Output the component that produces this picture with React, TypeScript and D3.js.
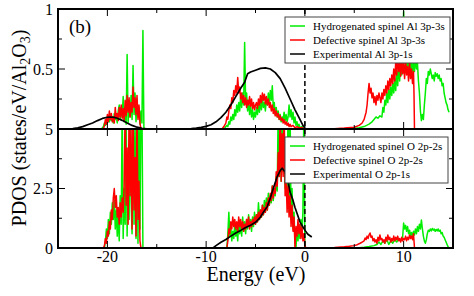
import React from "react";
import { scaleLinear, line } from "d3";

type Pt = [number, number];

// energy (eV), PDOS — Al panel (top)
const alHydro: Pt[] = [
  [-25, 0], [-20.6, 0], [-20.4, 0.02], [-20.3, 0.05], [-20.2, 0.03], [-20.1, 0.08], [-20.0, 0.05], [-19.9, 0.1], [-19.8, 0.06],
  [-19.7, 0.12], [-19.6, 0.07], [-19.5, 0.1], [-19.4, 0.05], [-19.3, 0.13], [-19.2, 0.08], [-19.1, 0.1], [-19.0, 0.05],
  [-18.9, 0.15], [-18.8, 0.2], [-18.7, 0.08], [-18.6, 0.18], [-18.5, 0.1], [-18.4, 0.27], [-18.3, 0.06], [-18.2, 0.15],
  [-18.1, 0.04], [-18.0, 0.62], [-17.9, 0.05], [-17.8, 0.22], [-17.7, 0.1], [-17.6, 0.28], [-17.5, 0.08], [-17.4, 0.53],
  [-17.3, 0.12], [-17.2, 0.3], [-17.1, 0.06], [-17.0, 0.25], [-16.9, 0.1], [-16.8, 0.18], [-16.7, 0.04], [-16.6, 0.15],
  [-16.5, 0.05], [-16.4, 0.82], [-16.3, 0],
  [-8.3, 0], [-8.1, 0.01], [-7.9, 0.03], [-7.8, 0.02], [-7.7, 0.06], [-7.6, 0.04], [-7.5, 0.1], [-7.4, 0.07], [-7.3, 0.12],
  [-7.2, 0.08], [-7.1, 0.16], [-7.0, 0.11], [-6.9, 0.2], [-6.8, 0.14], [-6.7, 0.22], [-6.6, 0.15], [-6.5, 0.28], [-6.4, 0.18],
  [-6.3, 0.3], [-6.2, 0.2], [-6.1, 0.72], [-6.0, 0.22], [-5.9, 0.3], [-5.8, 0.15], [-5.7, 0.24], [-5.6, 0.12], [-5.5, 0.2],
  [-5.4, 0.1], [-5.3, 0.16], [-5.2, 0.08], [-5.1, 0.14], [-5.0, 0.1], [-4.9, 0.18], [-4.8, 0.12], [-4.7, 0.2], [-4.6, 0.14],
  [-4.5, 0.24], [-4.4, 0.16], [-4.3, 0.26], [-4.2, 0.18], [-4.1, 0.22], [-4.0, 0.15], [-3.9, 0.25], [-3.8, 0.2], [-3.7, 0.3],
  [-3.6, 0.22], [-3.5, 0.32], [-3.4, 0.24], [-3.3, 0.36], [-3.2, 0.18], [-3.1, 0.22], [-3.0, 0.12], [-2.9, 0.18], [-2.8, 0.1],
  [-2.7, 0.15], [-2.6, 0.08], [-2.5, 0.12], [-2.4, 0.06], [-2.3, 0.1], [-2.2, 0.08], [-2.1, 0.14], [-2.0, 0.07], [-1.9, 0.12],
  [-1.8, 0.06], [-1.7, 0.1], [-1.6, 0.2], [-1.5, 0.1], [-1.4, 0.16], [-1.3, 0.08], [-1.2, 0.14], [-1.1, 0.05], [-1.0, 0.1],
  [-0.9, 0.03], [-0.8, 0.06], [-0.7, 0.02], [-0.6, 0.04], [-0.5, 0.01], [-0.3, 0.02], [-0.1, 0.0],
  [4.5, 0], [5.5, 0.01], [6.0, 0.02], [6.5, 0.04], [6.8, 0.06], [7.0, 0.08], [7.2, 0.1], [7.4, 0.09], [7.6, 0.11], [7.8, 0.1],
  [7.9, 0.18], [8.0, 0.14], [8.1, 0.24], [8.2, 0.2], [8.3, 0.3], [8.4, 0.22], [8.5, 0.33], [8.6, 0.25], [8.7, 0.35], [8.8, 0.28],
  [8.9, 0.38], [9.0, 0.3], [9.1, 0.42], [9.2, 0.32], [9.3, 0.48], [9.4, 0.36], [9.5, 0.55], [9.6, 0.4], [9.7, 0.6], [9.8, 0.45],
  [9.9, 0.7], [10.0, 0.98], [10.1, 0.55], [10.2, 0.75], [10.3, 0.5], [10.4, 0.68], [10.5, 0.45], [10.6, 0.62], [10.7, 0.5],
  [10.8, 0.58], [10.9, 0.45], [11.0, 0.56], [11.1, 0.48], [11.2, 0.6], [11.3, 0.5], [11.4, 0.55], [11.5, 0.4], [11.6, 0.3],
  [11.7, 0.15], [11.8, 0.07], [11.9, 0.12], [12.0, 0.08], [12.1, 0.2], [12.2, 0.3], [12.3, 0.42], [12.4, 0.38], [12.5, 0.48],
  [12.6, 0.45], [12.7, 0.5], [12.8, 0.46], [12.9, 0.42], [13.0, 0.45], [13.1, 0.4], [13.2, 0.47], [13.3, 0.44], [13.4, 0.46],
  [13.5, 0.42], [13.6, 0.45], [13.7, 0.4], [13.8, 0.42], [13.9, 0.36], [14.0, 0.38], [14.1, 0.3], [14.2, 0.26], [14.3, 0.22],
  [14.4, 0.2], [14.5, 0.16], [14.6, 0.14],
];

const alDefect: Pt[] = [
  [-25, 0], [-20.4, 0], [-20.3, 0.03], [-20.2, 0.08], [-20.1, 0.04], [-20.0, 0.12], [-19.9, 0.06], [-19.8, 0.15], [-19.7, 0.08],
  [-19.6, 0.13], [-19.5, 0.06], [-19.4, 0.1], [-19.3, 0.05], [-19.2, 0.18], [-19.1, 0.09], [-19.0, 0.13], [-18.9, 0.07],
  [-18.8, 0.18], [-18.7, 0.1], [-18.6, 0.2], [-18.5, 0.09], [-18.4, 0.17], [-18.3, 0.07], [-18.2, 0.24], [-18.1, 0.11],
  [-18.0, 0.28], [-17.9, 0.14], [-17.8, 0.26], [-17.7, 0.1], [-17.6, 0.22], [-17.5, 0.14], [-17.4, 0.35], [-17.3, 0.18],
  [-17.2, 0.26], [-17.1, 0.12], [-17.0, 0.28], [-16.9, 0.08], [-16.8, 0.2], [-16.7, 0.05], [-16.6, 0.0],
  [-8.4, 0], [-8.2, 0.02], [-8.0, 0.05], [-7.9, 0.1], [-7.8, 0.08], [-7.7, 0.15], [-7.6, 0.2], [-7.5, 0.17], [-7.4, 0.26],
  [-7.3, 0.22], [-7.2, 0.32], [-7.1, 0.28], [-7.0, 0.36], [-6.9, 0.3], [-6.8, 0.43], [-6.7, 0.3], [-6.6, 0.35], [-6.5, 0.25],
  [-6.4, 0.3], [-6.3, 0.22], [-6.2, 0.28], [-6.1, 0.2], [-6.0, 0.26], [-5.9, 0.18], [-5.8, 0.24], [-5.7, 0.2], [-5.6, 0.27],
  [-5.5, 0.19], [-5.4, 0.25], [-5.3, 0.17], [-5.2, 0.22], [-5.1, 0.16], [-5.0, 0.2], [-4.9, 0.22], [-4.8, 0.17], [-4.7, 0.25],
  [-4.6, 0.2], [-4.5, 0.28], [-4.4, 0.22], [-4.3, 0.3], [-4.2, 0.24], [-4.1, 0.29], [-4.0, 0.21], [-3.9, 0.27], [-3.8, 0.2],
  [-3.7, 0.25], [-3.6, 0.18], [-3.5, 0.22], [-3.4, 0.15], [-3.3, 0.2], [-3.2, 0.13], [-3.1, 0.17], [-3.0, 0.11], [-2.9, 0.15],
  [-2.8, 0.1], [-2.7, 0.13], [-2.6, 0.08], [-2.5, 0.11], [-2.4, 0.07], [-2.3, 0.09], [-2.2, 0.05], [-2.1, 0.08], [-2.0, 0.04],
  [-1.9, 0.06], [-1.8, 0.03], [-1.7, 0.05], [-1.6, 0.02], [-1.5, 0.04], [-1.4, 0.02], [-1.2, 0.03], [-1.0, 0.01], [-0.8, 0.02],
  [-0.6, 0.01], [-0.3, 0.01], [0, 0],
  [1.5, 0], [3.0, 0.003], [4.0, 0.008], [5.0, 0.015], [5.5, 0.03], [5.8, 0.05], [6.0, 0.08], [6.2, 0.14], [6.3, 0.2], [6.4, 0.3],
  [6.5, 0.38], [6.6, 0.3], [6.7, 0.34], [6.8, 0.26], [6.9, 0.3], [7.0, 0.22], [7.1, 0.27], [7.2, 0.2], [7.3, 0.28], [7.4, 0.24],
  [7.5, 0.3], [7.6, 0.26], [7.7, 0.22], [7.8, 0.3], [7.9, 0.25], [8.0, 0.33], [8.1, 0.28], [8.2, 0.36], [8.3, 0.3], [8.4, 0.4],
  [8.5, 0.33], [8.6, 0.42], [8.7, 0.36], [8.8, 0.45], [8.9, 0.38], [9.0, 0.5], [9.1, 0.4], [9.2, 0.56], [9.3, 0.45], [9.4, 0.62],
  [9.5, 0.48], [9.6, 0.58], [9.7, 0.44], [9.8, 0.6], [9.9, 0.46], [10.0, 0.55], [10.1, 0.42], [10.2, 0.58], [10.3, 0.45],
  [10.4, 0.52], [10.5, 0.4], [10.6, 0.56], [10.7, 0.42], [10.8, 0.5], [10.9, 0.38], [11.0, 0.48], [11.05, 0.3], [11.1, 0.0],
];

const alExp: Pt[] = [
  [-25, 0], [-24, 0.001], [-23.5, 0.004], [-23, 0.01], [-22.5, 0.02], [-22, 0.035], [-21.5, 0.05], [-21, 0.07], [-20.5, 0.088],
  [-20, 0.098], [-19.7, 0.1], [-19.3, 0.097], [-19, 0.09], [-18.5, 0.072], [-18, 0.05], [-17.5, 0.03], [-17, 0.015],
  [-16.5, 0.006], [-16, 0.002], [-15, 0], [-12, 0], [-11.5, 0.003], [-11, 0.008], [-10.5, 0.014], [-10, 0.022], [-9.5, 0.036],
  [-9, 0.06], [-8.5, 0.095], [-8, 0.14], [-7.5, 0.2], [-7, 0.27], [-6.5, 0.34], [-6.1, 0.39], [-5.8, 0.46], [-5.5, 0.475],
  [-5, 0.49], [-4.5, 0.505], [-4, 0.51], [-3.5, 0.5], [-3, 0.47], [-2.5, 0.42], [-2, 0.34], [-1.5, 0.25], [-1, 0.16],
  [-0.5, 0.08], [-0.2, 0.03], [0, 0.01],
];

// energy (eV), PDOS — O panel (bottom)
const oHydro: Pt[] = [
  [-25, 0], [-20.3, 0], [-20.2, 0.3], [-20.1, 0.8], [-20.0, 0.4], [-19.9, 1.2], [-19.8, 0.6], [-19.7, 1.5], [-19.6, 1.0],
  [-19.5, 1.9], [-19.4, 1.2], [-19.3, 2.0], [-19.2, 0.8], [-19.1, 1.6], [-19.0, 0.5], [-18.9, 1.4], [-18.8, 0.3], [-18.7, 2.2],
  [-18.6, 1.0], [-18.5, 6], [-18.4, 0.4], [-18.3, 2.5], [-18.2, 1.0], [-18.1, 6], [-18.0, 0.5], [-17.9, 3.5], [-17.8, 1.2],
  [-17.7, 6], [-17.6, 2.0], [-17.5, 0.6], [-17.4, 6], [-17.3, 1.0], [-17.2, 5.5], [-17.1, 0.4], [-17.0, 6], [-16.9, 0.2],
  [-16.8, 6], [-16.7, 0.8], [-16.6, 6], [-16.5, 6], [-16.4, 0],
  [-7.9, 0], [-7.8, 0.6], [-7.7, 1.5], [-7.6, 0.5], [-7.5, 0.9], [-7.4, 0.3], [-7.3, 0.7], [-7.2, 0.4], [-7.1, 1.0], [-7.0, 0.5],
  [-6.9, 0.8], [-6.8, 0.3], [-6.7, 1.1], [-6.6, 0.6], [-6.5, 1.0], [-6.4, 0.5], [-6.3, 1.3], [-6.2, 0.7], [-6.1, 1.1], [-6.0, 0.6],
  [-5.9, 1.2], [-5.8, 0.8], [-5.7, 1.4], [-5.6, 0.9], [-5.5, 1.2], [-5.4, 0.7], [-5.3, 1.3], [-5.2, 0.9], [-5.1, 1.5], [-5.0, 1.0],
  [-4.9, 1.4], [-4.8, 1.1], [-4.7, 1.9], [-4.6, 1.2], [-4.5, 1.6], [-4.4, 1.3], [-4.3, 1.8], [-4.2, 1.4], [-4.1, 2.0], [-4.0, 1.5],
  [-3.9, 2.1], [-3.8, 1.6], [-3.7, 2.3], [-3.6, 1.8], [-3.5, 2.2], [-3.4, 1.9], [-3.3, 2.6], [-3.2, 2.0], [-3.1, 2.5], [-3.0, 2.2],
  [-2.9, 3.0], [-2.8, 2.4], [-2.7, 6], [-2.6, 3.0], [-2.5, 4.5], [-2.4, 2.8], [-2.3, 6], [-2.2, 3.2], [-2.1, 4.0], [-2.0, 2.5],
  [-1.9, 3.5], [-1.8, 2.0], [-1.7, 6], [-1.6, 1.5], [-1.5, 6], [-1.4, 1.2], [-1.3, 2.5], [-1.2, 0.8], [-1.1, 1.5], [-1.0, 0.2],
  [-0.9, 0.0], [-0.8, 0.8], [-0.7, 0.3], [-0.6, 1.0], [-0.5, 0.4], [-0.4, 1.2], [-0.3, 0.6], [-0.2, 1.5], [-0.1, 6], [0.0, 0],
  [4.5, 0], [5.5, 0.01], [6.0, 0.03], [6.5, 0.06], [7.0, 0.1], [7.3, 0.15], [7.5, 0.25], [7.7, 0.15], [7.9, 0.3], [8.1, 0.2],
  [8.3, 0.35], [8.5, 0.15], [8.7, 0.3], [8.9, 0.2], [9.1, 0.35], [9.3, 0.25], [9.5, 0.4], [9.7, 0.3], [9.9, 0.45], [10.0, 1.05],
  [10.1, 0.8], [10.2, 0.95], [10.3, 0.7], [10.4, 0.9], [10.5, 0.6], [10.6, 0.75], [10.7, 0.5], [10.8, 0.65], [10.9, 0.5],
  [11.0, 0.7], [11.1, 0.55], [11.2, 0.8], [11.3, 0.6], [11.4, 0.9], [11.5, 0.7], [11.6, 1.0], [11.7, 0.8], [11.8, 1.18],
  [11.9, 0.8], [12.0, 0.5], [12.1, 0.3], [12.2, 0.2], [12.3, 0.35], [12.4, 0.6], [12.5, 0.75], [12.6, 0.7], [12.7, 0.8],
  [12.8, 0.72], [12.9, 0.82], [13.0, 0.75], [13.1, 0.8], [13.2, 0.7], [13.3, 0.78], [13.4, 0.72], [13.5, 0.8], [13.6, 0.7],
  [13.7, 0.75], [13.8, 0.6], [13.9, 0.65], [14.0, 0.5], [14.1, 0.45], [14.2, 0.35], [14.3, 0.25], [14.4, 0.15], [14.5, 0.05],
  [14.6, 0],
];

const oDefect: Pt[] = [
  [-25, 0], [-20.4, 0], [-20.3, 0.1], [-20.2, 0.4], [-20.1, 0.2], [-20.0, 0.7], [-19.9, 0.5], [-19.8, 1.1], [-19.7, 0.8],
  [-19.6, 1.6], [-19.5, 1.2], [-19.4, 2.1], [-19.3, 2.5], [-19.2, 1.7], [-19.1, 2.2], [-19.0, 1.3], [-18.9, 1.7], [-18.8, 1.0],
  [-18.7, 1.9], [-18.6, 1.3], [-18.5, 2.1], [-18.4, 1.5], [-18.3, 2.6], [-18.2, 6], [-18.1, 1.8], [-18.0, 4.2], [-17.9, 1.0],
  [-17.8, 6], [-17.7, 2.2], [-17.6, 5.0], [-17.5, 0.8], [-17.4, 6], [-17.3, 1.6], [-17.2, 3.8], [-17.1, 0.5], [-17.0, 6],
  [-16.9, 1.2], [-16.8, 2.8], [-16.7, 0.3], [-16.6, 0],
  [-7.9, 0], [-7.8, 0.3], [-7.7, 0.8], [-7.6, 0.6], [-7.5, 1.1], [-7.4, 0.8], [-7.3, 1.3], [-7.2, 0.9], [-7.1, 1.2], [-7.0, 0.8],
  [-6.9, 1.1], [-6.8, 0.7], [-6.7, 1.3], [-6.6, 0.9], [-6.5, 1.2], [-6.4, 0.8], [-6.3, 1.1], [-6.2, 0.7], [-6.1, 1.0], [-6.0, 0.8],
  [-5.9, 1.2], [-5.8, 0.9], [-5.7, 1.3], [-5.6, 0.8], [-5.5, 1.1], [-5.4, 0.9], [-5.3, 1.2], [-5.2, 1.0], [-5.1, 1.3], [-5.0, 1.0],
  [-4.9, 1.4], [-4.8, 1.1], [-4.7, 1.5], [-4.6, 1.2], [-4.5, 1.6], [-4.4, 1.3], [-4.3, 1.8], [-4.2, 1.4], [-4.1, 1.7], [-4.0, 1.5],
  [-3.9, 1.9], [-3.8, 1.6], [-3.7, 2.1], [-3.6, 1.8], [-3.5, 2.3], [-3.4, 2.0], [-3.3, 2.6], [-3.2, 2.1], [-3.1, 2.5], [-3.0, 2.3],
  [-2.9, 3.2], [-2.8, 2.6], [-2.7, 4.0], [-2.6, 3.0], [-2.5, 6], [-2.4, 2.8], [-2.3, 4.8], [-2.2, 3.0], [-2.1, 6], [-2.0, 2.2],
  [-1.9, 3.0], [-1.8, 1.5], [-1.7, 2.6], [-1.6, 1.3], [-1.5, 2.2], [-1.4, 0.9], [-1.3, 1.8], [-1.2, 0.7], [-1.1, 1.3], [-1.0, 0.0],
  [-0.9, 0.9], [-0.8, 0.5], [-0.7, 1.2], [-0.6, 0.6], [-0.5, 1.0], [-0.4, 0.4], [-0.3, 0.9], [-0.2, 0.3], [-0.1, 0.6], [0.0, 0.1],
  [0.1, 0],
  [1.5, 0], [3.0, 0.02], [4.0, 0.05], [4.5, 0.07], [5.0, 0.1], [5.3, 0.14], [5.6, 0.2], [5.8, 0.25], [6.0, 0.3], [6.1, 0.42],
  [6.2, 0.35], [6.3, 0.5], [6.4, 0.4], [6.5, 0.55], [6.6, 0.63], [6.7, 0.45], [6.8, 0.5], [6.9, 0.3], [7.0, 0.4], [7.1, 0.25],
  [7.2, 0.35], [7.3, 0.2], [7.4, 0.45], [7.5, 0.3], [7.6, 0.55], [7.7, 0.35], [7.8, 0.4], [7.9, 0.25], [8.0, 0.35], [8.1, 0.2],
  [8.2, 0.45], [8.3, 0.3], [8.4, 0.55], [8.5, 0.35], [8.6, 0.45], [8.7, 0.25], [8.8, 0.4], [8.9, 0.3], [9.0, 0.5], [9.1, 0.3],
  [9.2, 0.45], [9.3, 0.35], [9.4, 0.5], [9.5, 0.3], [9.6, 0.4], [9.7, 0.25], [9.8, 0.45], [9.9, 0.3], [10.0, 0.4], [10.1, 0.35],
  [10.2, 0.5], [10.3, 0.3], [10.4, 0.45], [10.5, 0.35], [10.6, 0.55], [10.7, 0.4], [10.8, 0.5], [10.9, 0.35], [11.0, 0.6],
  [11.1, 0.0],
];

const oExp: Pt[] = [
  [-9.3, 0], [-9.0, 0.1], [-8.5, 0.24], [-8.0, 0.36], [-7.5, 0.5], [-7.0, 0.63], [-6.5, 0.74], [-6.0, 0.86], [-5.5, 0.96],
  [-5.0, 1.08], [-4.5, 1.3], [-4.2, 1.5], [-3.8, 1.75], [-3.5, 2.1], [-3.2, 2.5], [-2.8, 3.0], [-2.5, 3.25], [-2.3, 3.35],
  [-2.0, 3.2], [-1.7, 2.8], [-1.5, 2.35], [-1.2, 2.0], [-1.0, 1.7], [-0.5, 1.1], [0, 0.75], [0.3, 0.58], [0.7, 0.46],
];

const alLegend = ["Hydrogenated spinel Al 3p-3s", "Defective spinel Al 3p-3s", "Experimental Al 3p-1s"];
const oLegend = ["Hydrogenated spinel O 2p-2s", "Defective spinel O 2p-2s", "Experimental O 2p-1s"];
const colors = ["#00ee00", "#ff0000", "#000000"];

const xMajor = [-20, -10, 0, 10];
const xMinor = [-15, -5, 5];
const topMajor = [0, 0.5, 1];
const topMinor = [0.25, 0.75];
const botMajor = [0, 2.5, 5];
const botMinor = [1.25, 3.75];

const W = 474;
const H = 296;
const L = 58, R = 453, T = 9, M = 129, B = 248;
const serif = "Times New Roman, Liberation Serif, Tinos, DejaVu Serif, serif";

export default function App() {
  const x = scaleLinear().domain([-25, 15]).range([L, R]);
  const yTop = scaleLinear().domain([0, 1]).range([M, T]);
  const yBot = scaleLinear().domain([0, 5]).range([B, M]);

  const panel = (
    id: string,
    y: any,
    series: Pt[][],
    major: number[],
    minor: number[],
    labels: string[],
    legend: string[],
    legendTop: number,
    legendW: number,
    y0: number,
    y1: number
  ) => {
    const gen = line<Pt>().x((d) => x(d[0])).y((d) => y(d[1]));
    return (
      <g>
        <clipPath id={id}>
          <rect x={L} y={y1} width={R - L} height={y0 - y1} />
        </clipPath>
        <g clipPath={`url(#${id})`}>
          {series.map((s, i) => (
            <path key={i} d={gen(s) ?? ""} fill="none" stroke={colors[i]} strokeWidth={i === 2 ? 1.7 : 1.5} strokeLinejoin="round" />
          ))}
          <line x1={x(0)} x2={x(0)} y1={y1} y2={y0} stroke="#000" strokeWidth={1.5} strokeDasharray="5,3" />
        </g>
        {/* x ticks on the bottom and top edge of each panel */}
        {xMajor.map((v) => (
          <g key={`xm${v}`} stroke="#000" strokeWidth={1}>
            <line x1={x(v)} x2={x(v)} y1={y0} y2={y0 - 7} />
            <line x1={x(v)} x2={x(v)} y1={y1} y2={y1 + 7} />
          </g>
        ))}
        {xMinor.map((v) => (
          <g key={`xn${v}`} stroke="#000" strokeWidth={1}>
            <line x1={x(v)} x2={x(v)} y1={y0} y2={y0 - 4} />
            <line x1={x(v)} x2={x(v)} y1={y1} y2={y1 + 4} />
          </g>
        ))}
        {major.map((v) => (
          <g key={`ym${v}`} stroke="#000" strokeWidth={1}>
            <line x1={L} x2={L + 7} y1={y(v)} y2={y(v)} />
            <line x1={R} x2={R - 7} y1={y(v)} y2={y(v)} />
          </g>
        ))}
        {minor.map((v) => (
          <g key={`yn${v}`} stroke="#000" strokeWidth={1}>
            <line x1={L} x2={L + 4} y1={y(v)} y2={y(v)} />
            <line x1={R} x2={R - 4} y1={y(v)} y2={y(v)} />
          </g>
        ))}
        {labels.map((t, i) =>
          t === "" ? null : (
            <text key={`yl${i}`} x={53} y={y(major[i])} dy="0.35em" textAnchor="end" fontSize={16} fontFamily={serif}>
              {t}
            </text>
          )
        )}
        {/* legend */}
        <rect x={285} y={legendTop} width={legendW} height={46} fill="#fff" stroke="#444" strokeWidth={1} />
        {legend.map((t, i) => (
          <g key={t}>
            <line x1={290} x2={305} y1={legendTop + 9 + i * 14} y2={legendTop + 9 + i * 14} stroke={colors[i]} strokeWidth={1.5} />
            <text x={313} y={legendTop + 9 + i * 14} dy="0.35em" fontSize={11} fontFamily={serif}>
              {t}
            </text>
          </g>
        ))}
      </g>
    );
  };

  return (
    <svg width={W} height={H} style={{ position: "fixed", left: 0, top: 0, background: "#fff" }}>
      {panel("clipTop", yTop, [alHydro, alDefect, alExp], topMajor, topMinor, ["", "0.5", "1"], alLegend, 17, 165, M, T)}
      {panel("clipBot", yBot, [oHydro, oDefect, oExp], botMajor, botMinor, ["0", "2.5", "5"], oLegend, 137, 163, B, M)}

      {/* frame */}
      <rect x={L} y={T} width={R - L} height={B - T} fill="none" stroke="#000" strokeWidth={2} />
      <line x1={L} x2={R} y1={M} y2={M} stroke="#000" strokeWidth={2} />

      {xMajor.map((v) => (
        <text key={v} x={x(v)} y={262} textAnchor="middle" fontSize={16} fontFamily={serif}>
          {v}
        </text>
      ))}

      <text x={69} y={33} fontSize={19} fontFamily={serif}>(b)</text>

      <text x={256} y={281} textAnchor="middle" fontSize={20} fontFamily={serif}>
        Energy (eV)
      </text>

      <text transform={`translate(26,128) rotate(-90)`} textAnchor="middle" fontSize={20} fontFamily={serif}>
        PDOS (states/eV/Al<tspan dy={4} fontSize={14}>2</tspan>
        <tspan dy={-4}>O</tspan>
        <tspan dy={4} fontSize={14}>3</tspan>
        <tspan dy={-4}>)</tspan>
      </text>
    </svg>
  );
}
